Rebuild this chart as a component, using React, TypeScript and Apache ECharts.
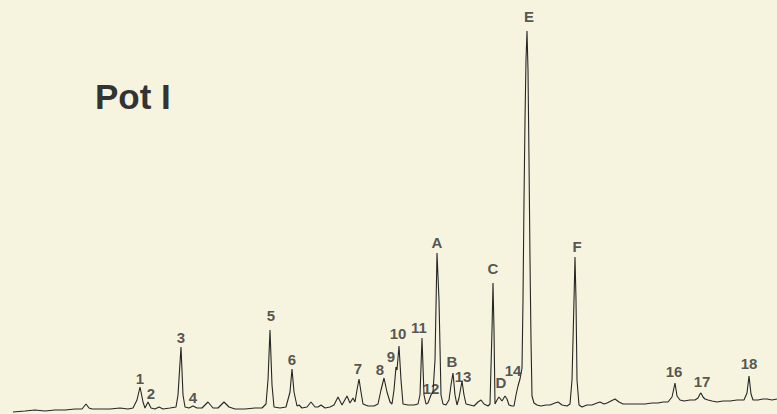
import React, { useEffect, useRef } from "react";
import * as echarts from "echarts";

// Retention position (x units) and detector signal
const traceTime = [
  13, 25, 35, 45, 55, 65, 75, 82, 86, 89, 92, 100, 110, 120, 128, 133, 137, 140, 143, 145,
  148, 151, 155, 159, 163, 170, 176, 178, 181, 183, 185, 189, 193, 197, 202, 208, 213, 218, 224, 229,
  235, 245, 255, 262, 266, 268, 270, 272, 274, 280, 286, 290, 292, 294, 297, 299, 302, 307, 311, 315,
  318, 321, 325, 330, 334, 338, 342, 347, 350, 353, 355, 357, 359, 361, 363, 368, 374, 378, 381, 384,
  387, 390, 392, 394, 396, 397, 399, 401, 403, 408, 414, 418, 420, 422, 424, 426, 428, 431, 433, 435,
  437, 439, 441, 443, 446, 449, 451, 453, 455, 457, 459, 462, 464, 466, 470, 474, 478, 481, 484, 488,
  490, 492, 493, 494, 495, 497, 499, 502, 505, 507, 509, 512, 514, 516, 518, 520, 522, 523, 524, 525,
  526, 527, 528, 529, 530, 531, 532, 534, 537, 541, 546, 550, 555, 558, 562, 567, 570, 572, 574, 575,
  576, 577, 579, 582, 587, 592, 597, 600, 604, 607, 611, 615, 619, 623, 630, 638, 645, 652, 658, 663,
  668, 672, 675, 677, 680, 684, 690, 695, 698, 700, 701, 703, 705, 708, 712, 717, 723, 730, 737, 744,
  747, 749, 751, 753, 758, 763, 767, 772, 777,
];
const traceSignal = [
  2, 3, 4, 3, 4, 4, 5, 5, 10, 6, 5, 5, 5, 6, 5, 6, 14, 27, 12, 6,
  12, 6, 5, 7, 5, 6, 7, 19, 67, 19, 7, 6, 8, 6, 6, 12, 6, 6, 12, 7,
  5, 5, 6, 6, 10, 34, 84, 29, 7, 6, 7, 22, 45, 22, 8, 9, 6, 7, 12, 7,
  7, 9, 6, 7, 9, 17, 9, 18, 11, 16, 12, 24, 35, 22, 10, 8, 8, 10, 24, 36,
  22, 12, 10, 24, 47, 44, 68, 34, 10, 9, 9, 10, 19, 76, 19, 10, 11, 19, 22, 54,
  161, 114, 19, 10, 9, 14, 29, 41, 19, 9, 16, 33, 19, 10, 9, 8, 12, 14, 10, 8,
  10, 84, 131, 84, 10, 14, 17, 13, 18, 15, 9, 8, 8, 19, 28, 35, 46, 114, 214, 294,
  354, 383, 344, 254, 154, 74, 18, 11, 9, 8, 9, 9, 11, 12, 9, 8, 10, 34, 114, 157,
  114, 34, 9, 7, 9, 9, 11, 12, 10, 11, 13, 15, 12, 10, 10, 10, 10, 11, 11, 12,
  12, 17, 31, 18, 14, 13, 14, 14, 16, 20, 21, 17, 15, 14, 13, 12, 13, 13, 14, 14,
  21, 38, 20, 14, 14, 15, 15, 14, 15,
];

// Peak labels and where they sit
const peakNames = ["1", "2", "3", "4", "5", "6", "7", "8", "9", "10", "11", "12", "A", "B", "13", "C", "D", "14", "E", "F", "16", "17", "18"];
const peakLabelTime = [140, 151, 181, 193, 271, 292, 358, 380, 391, 398, 419, 431, 437, 452, 463, 493, 501, 513, 529, 577, 674, 702, 749];
const peakLabelSignal = [36, 21, 77, 17, 99, 55, 46, 45, 58, 81, 87, 26, 172, 53, 38, 146, 32, 44, 398, 168, 43, 33, 51];

const chartTitle = "Pot I";

export default function App() {
  const ref = useRef<HTMLDivElement>(null);
  useEffect(() => {
    if (!ref.current) return;
    const chart = echarts.init(ref.current, undefined, { renderer: "svg" });
    const lineData = traceTime.map((t, i) => [t, traceSignal[i]]);
    const labelData = peakNames.map((n, i) => ({ name: n, value: [peakLabelTime[i], peakLabelSignal[i]] }));
    chart.setOption({
      animation: false,
      backgroundColor: "#f6f4df",
      grid: { left: 0, right: 0, top: 0, bottom: 0 },
      xAxis: { type: "value", min: 0, max: 777, show: false },
      yAxis: { type: "value", min: 0, max: 414, show: false },
      graphic: [
        {
          type: "text",
          x: 95,
          y: 96,
          style: {
            text: chartTitle,
            fontFamily: "Liberation Sans, Arial, sans-serif",
            fontWeight: "bold",
            fontSize: 35,
            fill: "#333333",
            verticalAlign: "middle",
            align: "left",
          },
        },
      ],
      series: [
        {
          type: "line",
          data: lineData,
          showSymbol: false,
          symbol: "none",
          lineStyle: { color: "#262626", width: 1.1 },
          silent: true,
        },
        {
          type: "scatter",
          data: labelData,
          symbolSize: 1,
          itemStyle: { color: "rgba(0,0,0,0)" },
          label: {
            show: true,
            position: "inside",
            formatter: "{b}",
            fontFamily: "Liberation Sans, Arial, sans-serif",
            fontWeight: "bold",
            fontSize: 15,
            color: "#2b2b2b",
          },
          silent: true,
        },
      ],
    });
    return () => chart.dispose();
  }, []);
  return (
    <div
      ref={ref}
      style={{ position: "absolute", left: 0, top: 0, width: 777, height: 414 }}
    />
  );
}
